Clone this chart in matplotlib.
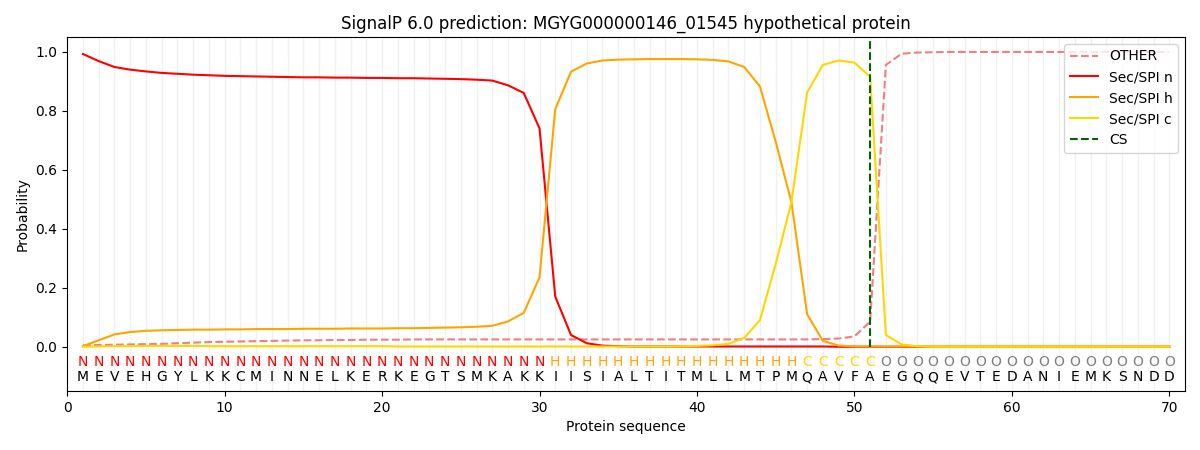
import matplotlib
matplotlib.use("Agg")
import matplotlib.pyplot as plt
import numpy as np

sequence = list("MEVEHGYLKKCMINNELKERKEGTSMKAKKIISIALTITMLLMTPMQAVFAEGQQEVTEDANIEMKSNDD")
region_labels = list("N" * 30 + "H" * 16 + "C" * 5 + "O" * 19)

other = [0.005, 0.006, 0.007, 0.008, 0.009, 0.010, 0.012, 0.014, 0.016, 0.017,
         0.018, 0.019, 0.020, 0.021, 0.022, 0.022, 0.023, 0.023, 0.024, 0.024,
         0.024, 0.025, 0.025, 0.025, 0.025, 0.025, 0.025, 0.025, 0.025, 0.025,
         0.025, 0.025, 0.025, 0.025, 0.025, 0.025, 0.025, 0.025, 0.025, 0.025,
         0.025, 0.025, 0.025, 0.025, 0.025, 0.025, 0.025, 0.026, 0.028, 0.035,
         0.085, 0.955, 0.993, 0.997, 0.998, 0.999, 0.999, 0.999, 0.999, 0.999,
         0.999, 0.999, 0.999, 0.999, 0.999, 0.999, 0.999, 0.999, 0.999, 0.999]
sec_n = [0.992, 0.968, 0.948, 0.939, 0.933, 0.928, 0.925, 0.922, 0.920, 0.918,
         0.917, 0.916, 0.915, 0.914, 0.913, 0.913, 0.912, 0.912, 0.911, 0.911,
         0.910, 0.910, 0.909, 0.908, 0.907, 0.905, 0.902, 0.886, 0.860, 0.740,
         0.170, 0.040, 0.012, 0.004, 0.002, 0.001, 0.001, 0.001, 0.001, 0.001,
         0.001, 0.001, 0.001, 0.001, 0.001, 0.001, 0.001, 0.001, 0.000, 0.000,
         0.000, 0.000, 0.000, 0.000, 0.000, 0.000, 0.000, 0.000, 0.000, 0.000,
         0.000, 0.000, 0.000, 0.000, 0.000, 0.000, 0.000, 0.000, 0.000, 0.000]
sec_h = [0.002, 0.022, 0.042, 0.050, 0.054, 0.056, 0.057, 0.058, 0.058, 0.059,
         0.059, 0.060, 0.060, 0.060, 0.061, 0.061, 0.061, 0.062, 0.062, 0.062,
         0.063, 0.063, 0.064, 0.065, 0.066, 0.068, 0.071, 0.086, 0.115, 0.235,
         0.805, 0.932, 0.960, 0.970, 0.973, 0.974, 0.975, 0.975, 0.975, 0.974,
         0.972, 0.967, 0.948, 0.882, 0.695, 0.490, 0.110, 0.020, 0.004, 0.001,
         0.001, 0.001, 0.001, 0.001, 0.001, 0.001, 0.001, 0.001, 0.001, 0.001,
         0.001, 0.001, 0.001, 0.001, 0.001, 0.001, 0.001, 0.001, 0.001, 0.001]
sec_c = [0.000, 0.001, 0.002, 0.002, 0.003, 0.003, 0.003, 0.003, 0.002, 0.002,
         0.002, 0.002, 0.002, 0.002, 0.002, 0.002, 0.002, 0.002, 0.002, 0.002,
         0.001, 0.001, 0.001, 0.001, 0.001, 0.001, 0.001, 0.001, 0.001, 0.001,
         0.001, 0.001, 0.001, 0.001, 0.001, 0.001, 0.001, 0.001, 0.002, 0.003,
         0.005, 0.010, 0.030, 0.090, 0.280, 0.490, 0.862, 0.955, 0.970, 0.963,
         0.915, 0.040, 0.008, 0.002, 0.000, 0.000, 0.000, 0.000, 0.000, 0.000,
         0.000, 0.000, 0.000, 0.000, 0.000, 0.000, 0.000, 0.000, 0.000, 0.000]
cs_position = 51

label_colors = {"N": "red", "H": "orange", "C": "gold", "O": "gray"}

positions = np.arange(1, len(sequence) + 1)

fig = plt.figure(figsize=(12, 4.5), dpi=100)
ax = fig.add_axes([0.056, 0.131, 0.9315, 0.787])

for p in positions:
    ax.axvline(p, color="#eeeeee", linewidth=1, zorder=0, alpha=0.8)

ax.plot(positions, other, color="lightcoral", linestyle="--", label="OTHER", linewidth=1.5)
ax.plot(positions, sec_n, color="red", label="Sec/SPI n", linewidth=1.5)
ax.plot(positions, sec_h, color="orange", label="Sec/SPI h", linewidth=1.5)
ax.plot(positions, sec_c, color="gold", label="Sec/SPI c", linewidth=1.5)
ax.vlines(cs_position, 0, 1.037, color="darkgreen", linestyle="--", label="CS", linewidth=1.5)

for p, lab, aa in zip(positions, region_labels, sequence):
    ax.text(p, -0.05, lab, color=label_colors[lab], ha="center", va="center", fontsize=10)
    ax.text(p, -0.103, aa, color="black", ha="center", va="center", fontsize=10)

ax.set_xlim(0, 71)
ax.set_ylim(-0.15, 1.05)
ax.set_yticks([0.0, 0.2, 0.4, 0.6, 0.8, 1.0])
ax.set_xlabel("Protein sequence")
ax.set_ylabel("Probability")
ax.set_title("SignalP 6.0 prediction: MGYG000000146_01545 hypothetical protein")
ax.legend(loc="upper right")

fig.savefig("out.png", dpi=100)
